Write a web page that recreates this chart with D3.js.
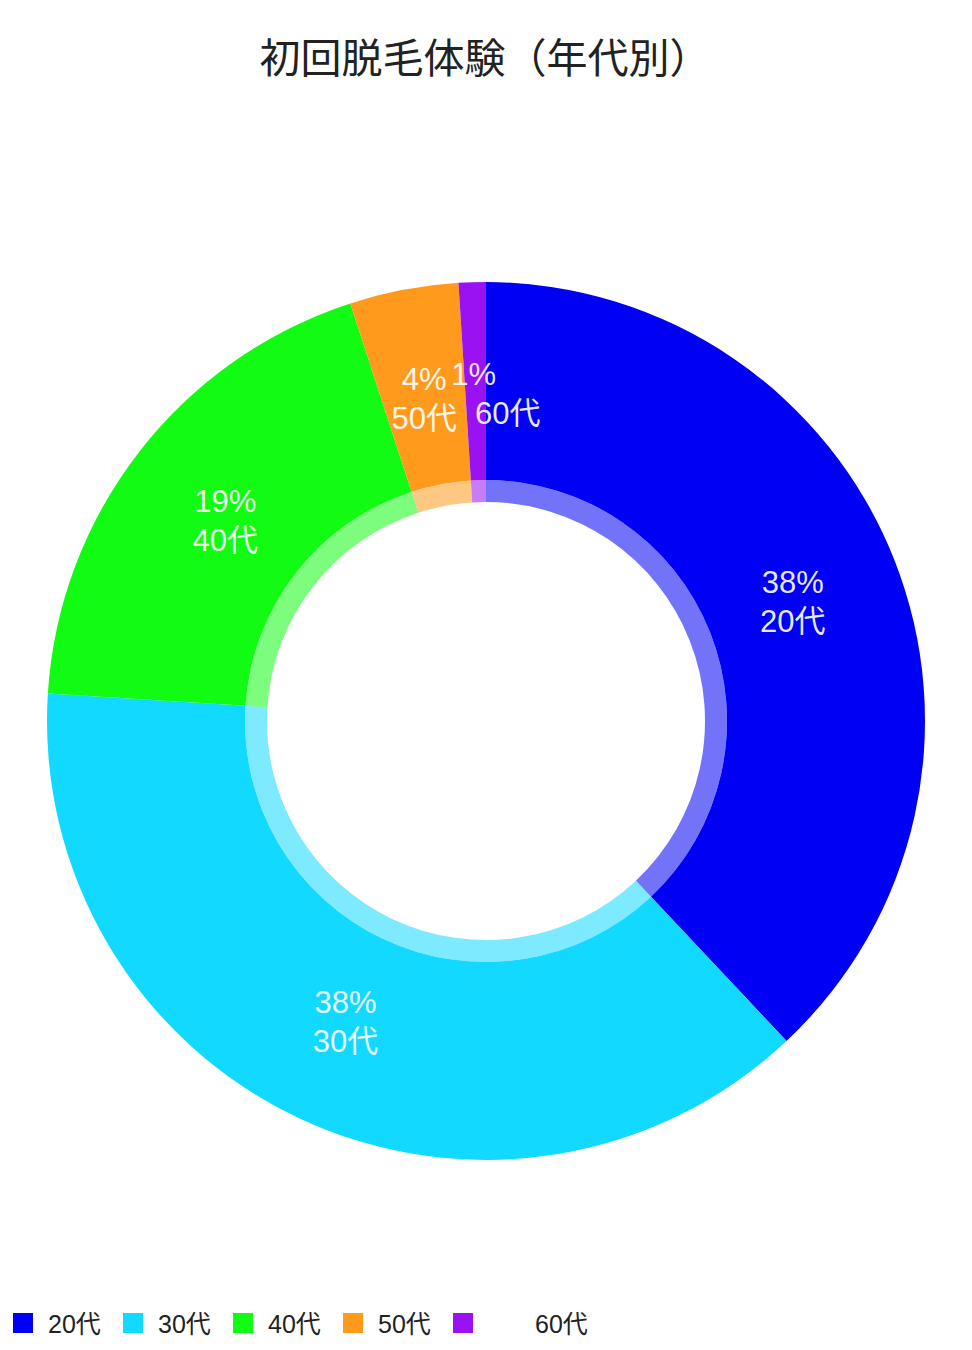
<!DOCTYPE html>
<html>
<head>
<meta charset="utf-8">
<script src="https://cdn.jsdelivr.net/npm/d3@7"></script>
<style>
  body { margin: 0; background: #fff; }
  svg text { font-family: "Liberation Sans", "Noto Sans CJK JP", sans-serif; }
  svg text.title { font-family: "Noto Sans CJK JP", sans-serif; }
</style>
</head>
<body>
<div id="chart"></div>
<script>

var categories = ["20代", "30代", "40代", "50代", "60代"];
var values = [38, 38, 19, 4, 1];
var pctLabels = ["38%", "38%", "19%", "4%", "1%"];
var colors = ["#0000f4", "#12d9ff", "#12fb12", "#ff9a1c", "#9a12f2"];

var width = 972, height = 1350;
var cx = 486, cy = 721;
var outerR = 439, ringR = 241, innerR = 219, labelR = 330;

// the 1% slice label is pushed right so it doesn't run into 50代
var nudge = {
  "60代": [-2, 32]
};

var svg = d3.select("#chart")
    .append("svg")
    .attr("width", width)
    .attr("height", height);

svg.append("text")
    .attr("class", "title")
    .attr("x", 485)
    .attr("y", 73)
    .attr("text-anchor", "middle")
    .style("font-size", "41px")
    .style("fill", "#222")
    .text("初回脱毛体験（年代別）");

var pie = d3.pie().sort(null).value(function(d){ return d; });
var arcs = pie(values);

var outer = d3.arc().innerRadius(ringR).outerRadius(outerR);
var ring = d3.arc().innerRadius(innerR).outerRadius(ringR);
var labelArc = d3.arc().innerRadius(labelR).outerRadius(labelR);

var g = svg.append("g")
    .attr("transform", "translate(" + cx + "," + cy + ")");

g.selectAll(".slice")
    .data(arcs).enter()
    .append("path")
    .attr("class", "slice")
    .attr("d", outer)
    .attr("fill", function(d, i){ return colors[i]; });

g.selectAll(".ring")
    .data(arcs).enter()
    .append("path")
    .attr("class", "ring")
    .attr("d", ring)
    .attr("fill", function(d, i){ return colors[i]; })
    .attr("opacity", 0.55);

var labels = g.selectAll(".lbl")
    .data(arcs).enter()
    .append("g")
    .attr("class", "lbl")
    .attr("transform", function(d){ return "translate(" + labelArc.centroid(d) + ")"; });

labels.append("text")
    .attr("text-anchor", "middle")
    .attr("dominant-baseline", "central")
    .attr("x", function(d, i){ var n = nudge[categories[i]]; return n ? n[0] : 0; })
    .attr("y", -17)
    .style("font-size", "31px")
    .style("fill", "#fff")
    .style("fill-opacity", 0.92)
    .text(function(d, i){ return pctLabels[i]; });

labels.append("text")
    .attr("text-anchor", "middle")
    .attr("dominant-baseline", "central")
    .attr("x", function(d, i){ var n = nudge[categories[i]]; return n ? n[1] : 0; })
    .attr("y", 22)
    .style("font-size", "31px")
    .style("fill", "#fff")
    .style("fill-opacity", 0.92)
    .text(function(d, i){ return categories[i]; });

// legend
var legend = svg.append("g")
    .attr("transform", "translate(13,1313)");

var item = legend.selectAll(".item")
    .data(categories).enter()
    .append("g")
    .attr("class", "item")
    .attr("transform", function(d, i){ return "translate(" + (i * 110) + ",0)"; });

item.append("rect")
    .attr("width", 20)
    .attr("height", 20)
    .attr("fill", function(d, i){ return colors[i]; });

item.append("text")
    .attr("x", function(d, i){ return i == 4 ? 82 : 35; })
    .attr("y", 11)
    .attr("dominant-baseline", "central")
    .style("font-size", "25px")
    .style("fill", "#222")
    .text(function(d){ return d; });

</script>
</body>
</html>
